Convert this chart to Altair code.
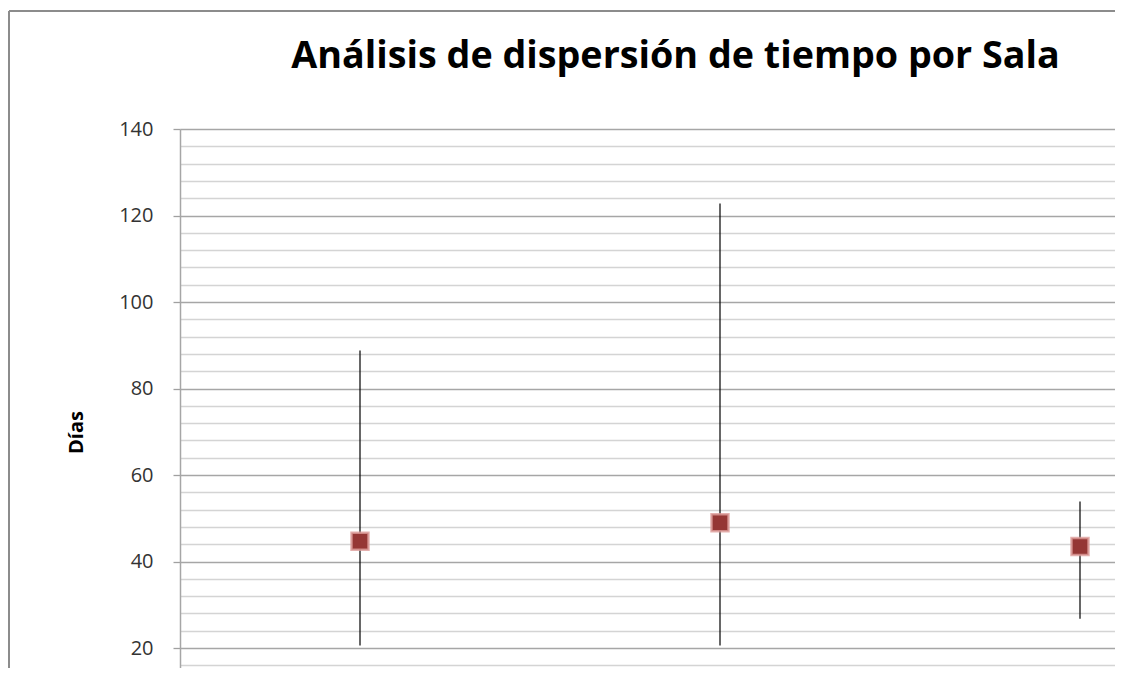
import altair as alt
import pandas as pd

# Data
salas = ["Sala 1", "Sala 2", "Sala 3"]
minimos = [20.6, 20.6, 26.8]
maximos = [88.8, 122.8, 53.9]
promedios = [44.7, 49.0, 43.5]

y_ticks = list(range(16, 141, 4))

df = pd.DataFrame({"sala": salas, "min": minimos, "max": maximos, "prom": promedios})
frame_df = pd.DataFrame({"k": [0]})

W = 935
H = 539
PAD_L = 172
PAD_T = 121

major = "datum.value % 20 === 0"

x_enc = alt.X("sala:N", scale=alt.Scale(type="point", range=[0, 1080], padding=0.5), axis=None)
y_scale = alt.Scale(domain=[15.4, 140], nice=False, zero=False)
y_axis = alt.Axis(
    values=y_ticks,
    tickCount=100,
    labelExpr=f"{major} ? datum.label : ''",
    labelOverlap=False,
    labelFont="Open Sans",
    labelFontSize=20,
    labelColor="#333333",
    labelPadding=20,
    grid=True,
    gridColor={"condition": {"test": major, "value": "#a6a6a6"}, "value": "#d4d4d4"},
    gridWidth=1.3,
    tickOpacity={"condition": {"test": major, "value": 1}, "value": 0},
    tickColor="#a0a0a0",
    tickSize=7,
    tickWidth=1.3,
    domainColor="#a6a6a6",
    domainWidth=1.5,
    title="Días",
    titleFont="Open Sans",
    titleFontSize=20,
    titleFontWeight="bold",
    titleColor="#000000",
    titleX=-104,
    titleY=303,
    titleAlign="center",
    titleBaseline="middle",
)

frame_top = alt.Chart(frame_df).mark_rule(color="#8c8c8c", strokeWidth=2).encode(
    x=alt.value(-171), x2=alt.value(W), y=alt.value(-118)
)
frame_left = alt.Chart(frame_df).mark_rule(color="#8c8c8c", strokeWidth=2).encode(
    x=alt.value(-171), y=alt.value(-118), y2=alt.value(H)
)

rules = alt.Chart(df).mark_rule(color="#000000", strokeWidth=1.2).encode(
    x=x_enc,
    y=alt.Y("min:Q", scale=y_scale, axis=y_axis),
    y2="max:Q",
)

points = alt.Chart(df).mark_square(
    size=289, filled=True, color="#953735", opacity=1,
    stroke="#dd9c9a", strokeWidth=2.5, strokeOpacity=0.8
).encode(
    x=x_enc,
    y=alt.Y("prom:Q", scale=y_scale),
)

chart = alt.layer(frame_top, frame_left, rules, points).properties(
    width=W,
    height=H,
    padding={"left": PAD_L, "top": PAD_T, "right": 0, "bottom": 0},
    autosize=alt.AutoSizeParams(type="none"),
    title=alt.TitleParams(
        text="Análisis de dispersión de tiempo por Sala",
        font="Open Sans",
        fontSize=37.7,
        fontWeight="bold",
        color="#000000",
        anchor="middle",
        frame="group",
        baseline="alphabetic",
        offset=-96,
        dx=28,
    ),
).configure_view(stroke=None)

chart.save("out.html", embed_options={"renderer": "svg", "actions": False})
